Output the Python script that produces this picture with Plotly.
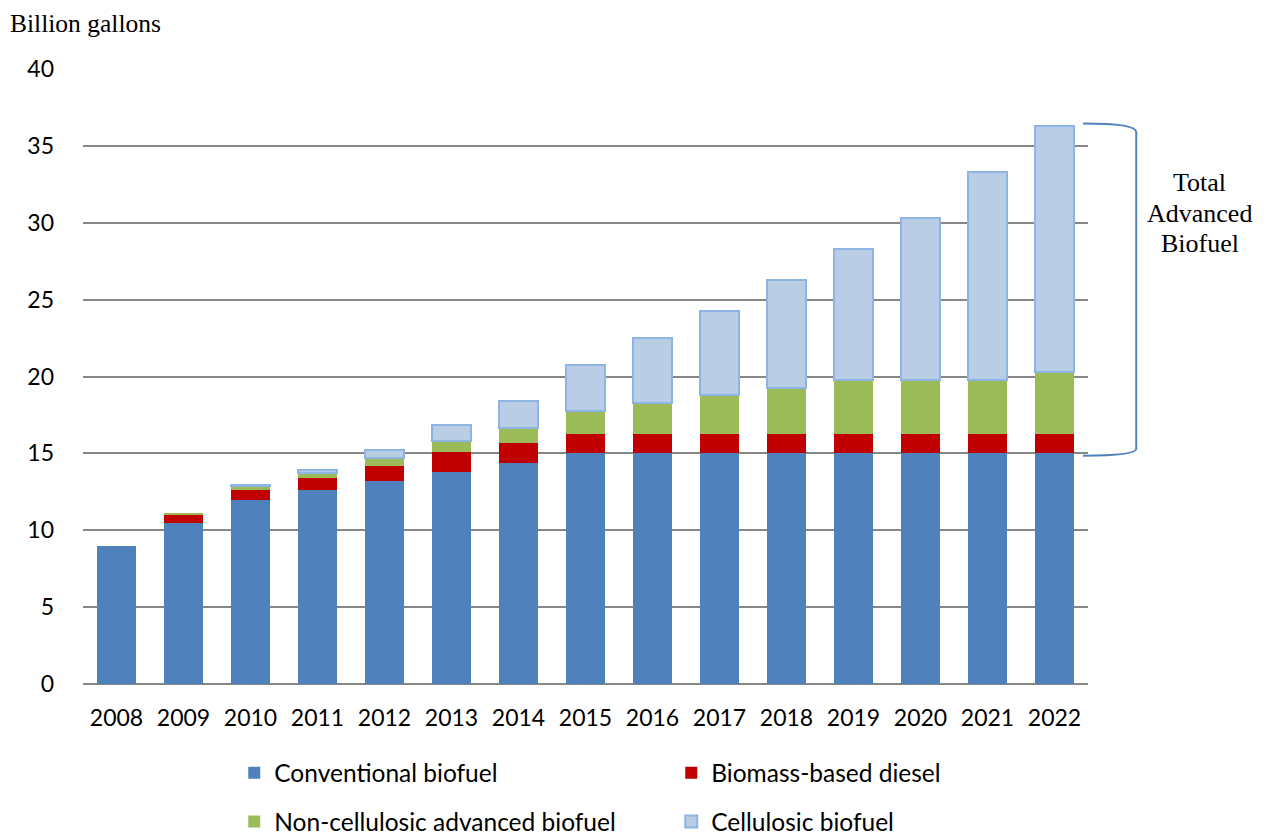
import plotly.graph_objects as go

years = ["2008", "2009", "2010", "2011", "2012", "2013", "2014", "2015",
         "2016", "2017", "2018", "2019", "2020", "2021", "2022"]
conventional = [9.0, 10.5, 12.0, 12.6, 13.2, 13.8, 14.4, 15.0, 15.0, 15.0, 15.0, 15.0, 15.0, 15.0, 15.0]
biomass_diesel = [0, 0.5, 0.65, 0.8, 1.0, 1.28, 1.28, 1.28, 1.28, 1.28, 1.28, 1.28, 1.28, 1.28, 1.28]
non_cellulosic = [0, 0.1, 0.2, 0.3, 0.5, 0.75, 1.0, 1.5, 2.0, 2.5, 3.0, 3.5, 3.5, 3.5, 4.0]
cellulosic = [0, 0, 0.1, 0.25, 0.5, 1.0, 1.75, 3.0, 4.25, 5.5, 7.0, 8.5, 10.5, 13.5, 16.0]


def nz(vals):
    return [v if v else None for v in vals]


SANS = "Lato"
SERIF = "Liberation Serif"

fig = go.Figure()
fig.add_bar(x=years, y=nz(conventional), name="Conventional biofuel",
            marker=dict(color="#4F81BD", line=dict(width=0)), legend="legend")
fig.add_bar(x=years, y=nz(biomass_diesel), name="Biomass-based diesel",
            marker=dict(color="#C00000", line=dict(width=0)), legend="legend")
fig.add_bar(x=years, y=nz(non_cellulosic), name="Non-cellulosic advanced biofuel",
            marker=dict(color="#9BBB59", line=dict(width=0)), legend="legend2")
fig.add_bar(x=years, y=nz(cellulosic), name="Cellulosic biofuel",
            marker=dict(color="#B9CDE5", line=dict(color="#8EB4E3", width=2)), legend="legend2")

fig.update_layout(
    barmode="stack",
    bargap=0.43,
    width=1259, height=828,
    margin=dict(l=75, r=179, t=61, b=152, autoexpand=False),
    plot_bgcolor="white", paper_bgcolor="white",
    font=dict(family=SANS, size=23, color="black"),
    showlegend=True,
    legend=dict(orientation="h", x=0.1505, y=-0.108, xanchor="left", yanchor="top",
                entrywidth=392, entrywidthmode="pixels", font=dict(size=24.5),
                traceorder="normal", itemclick=False),
    legend2=dict(orientation="h", x=0.1505, y=-0.187, xanchor="left", yanchor="top",
                 entrywidth=392, entrywidthmode="pixels", font=dict(size=24.5),
                 traceorder="normal", itemclick=False),
)
fig.update_xaxes(showline=False, ticks="", tickfont=dict(size=23), ticklabelstandoff=18)
fig.update_yaxes(range=[0, 40], dtick=5, showgrid=True, gridcolor="#868686", gridwidth=1.5,
                 zeroline=True, zerolinecolor="#868686", zerolinewidth=1.5,
                 showline=False, ticks="", tickfont=dict(size=23), ticklabelstandoff=28)

fig.add_annotation(text="Billion gallons", xref="paper", yref="paper", x=-0.0746, y=1.0,
                   xanchor="left", yanchor="middle", yshift=46, showarrow=False,
                   font=dict(family=SERIF, size=25.5))
for txt, yv in [("Total", 32.65), ("Advanced", 30.63), ("Biofuel", 28.62)]:
    fig.add_annotation(text=txt, xref="paper", yref="y", x=1.111, y=yv,
                       xanchor="center", yanchor="middle", showarrow=False,
                       font=dict(family=SERIF, size=26))
fig.add_shape(type="path", xref="paper", yref="y",
              path="M 0.995,36.45 Q 1.048,36.45 1.048,35.9 L 1.048,15.3 Q 1.048,14.85 0.995,14.85",
              line=dict(color="#4F81BD", width=2))

fig.write_html("out.html")
